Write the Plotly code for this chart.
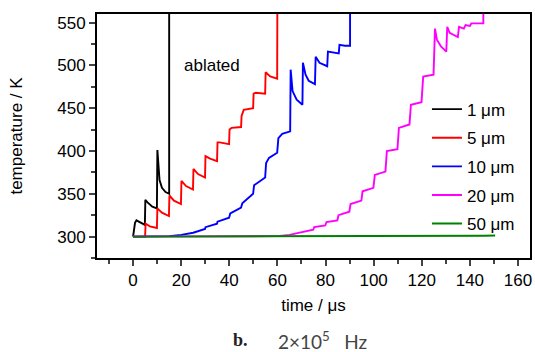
import plotly.graph_objects as go

# ---- data ----
t_1um = [0, 0.3, 0.8, 1.4, 2.5, 4.9, 5.1, 6.0, 8.0, 9.9, 10.1, 10.5, 11.0, 12.0, 13.5, 15.0, 15.0]
T_1um = [300, 308, 316, 319, 317, 313.6, 343, 340, 335, 333, 401, 378, 366, 357, 352, 350, 600]

t_5um = [0, 5, 5.2, 7, 9.9, 10.1, 12, 14.9, 15.1, 17, 19.9, 20.1, 22, 24.9, 25.1, 27, 29.9,
         30.1, 32, 34.9, 35.1, 36, 39.9, 40.1, 41, 44.9, 45.1, 46, 49.9, 50.1, 51, 54.9,
         55.1, 57, 59.9, 60]
T_5um = [300, 300, 315, 312, 310, 333, 328, 324, 348, 342, 338, 365, 359, 355, 379, 373, 369,
         394, 391, 388, 410, 410, 408, 425, 427, 428, 441, 448, 450, 467, 468, 467,
         492, 487, 484.5, 600]

t_10um = [0, 10, 15, 20, 25, 29.9, 30.1, 34.9, 35.1, 39.9, 40.4, 44.9, 45.4, 49.9, 50.3,
          54.9, 55.3, 56.5, 59.9, 60.4, 62, 65.3, 65.5, 66.3, 68, 70.4, 70.6, 71.7, 73,
          75.6, 75.9, 77.5, 80.7, 81, 83, 85.5, 85.8, 88, 90.2, 90.2]
T_10um = [300, 300, 300.5, 302, 304.5, 309, 311, 315, 317.5, 322, 327, 334, 339, 350, 360,
          369, 386, 392, 398, 415, 420, 423, 495, 470, 460, 454, 503, 489, 482,
          478, 510, 503, 499, 516, 515, 514, 524, 523, 523, 600]

t_20um = [0, 55, 60, 65, 70, 74.9, 75.3, 79.9, 80.4, 84.9, 85.4, 89.9, 90.4, 94.9, 95.4,
          99.9, 100.5, 104.9, 105.5, 109.9, 110.5, 114.9, 115.5, 119.9, 120.6, 124.9,
          125.5, 126.3, 128, 130.2, 130.6, 131.6, 135, 135.5, 137.5, 138.2, 140, 140.6,
          145.6, 145.6]
T_20um = [300, 300, 300.5, 302, 305, 308, 311, 313, 317, 319, 325, 329, 338, 342, 353,
          357, 372, 376, 400, 402, 427, 431, 454, 457, 487, 489,
          543, 530, 522, 516, 545, 538, 533, 545, 543, 547, 546, 549,
          549, 600]

t_50um = [0, 145, 146, 150.5]
T_50um = [300, 300.2, 301, 301.3]

names = ["1 \u03bcm", "5 \u03bcm", "10 \u03bcm", "20 \u03bcm", "50 \u03bcm"]
colors = ["#000000", "#FF0000", "#0000FF", "#FF00FF", "#008000"]
x_ticks = [0, 20, 40, 60, 80, 100, 120, 140, 160]
y_ticks = [300, 350, 400, 450, 500, 550]

series = [(t_1um, T_1um), (t_5um, T_5um), (t_10um, T_10um), (t_20um, T_20um), (t_50um, T_50um)]

FONT = "Liberation Sans, Arial, sans-serif"
fig = go.Figure()
for (tx, ty), nm, c in zip(series, names, colors):
    fig.add_trace(go.Scatter(x=tx, y=ty, mode="lines", name=nm, legendgroup=nm,
                             line=dict(color=c, width=1.9)))

fig.update_layout(
    width=535, height=352,
    margin=dict(l=97, r=3, t=14, b=94),
    paper_bgcolor="white", plot_bgcolor="white",
    font=dict(family=FONT, size=17, color="black"),
    showlegend=True,
    legend=dict(x=0.762, y=0.682, xanchor="left", yanchor="top",
                bgcolor="rgba(0,0,0,0)", font=dict(size=17), tracegroupgap=3.5),
)
fig.update_xaxes(range=[-15, 165], tickvals=x_ticks, ticks="outside", ticklen=6, tickwidth=1.5,
                 showline=True, linewidth=2, linecolor="black", mirror=True, showgrid=False,
                 zeroline=False,
                 minor=dict(dtick=10, tick0=0, ticks="outside", ticklen=4, tickwidth=1.5,
                            showgrid=False),
                 title=dict(text="time / \u03bcs", font=dict(size=17), standoff=10))
fig.update_yaxes(range=[275, 560], tickvals=y_ticks, ticks="outside", ticklen=6, tickwidth=1.5,
                 showline=True, linewidth=2, linecolor="black", mirror=True, showgrid=False,
                 zeroline=False,
                 minor=dict(dtick=25, tick0=0, ticks="outside", ticklen=4, tickwidth=1.5,
                            showgrid=False),
                 title=dict(text="temperature / K", font=dict(size=17), standoff=30))

fig.add_annotation(x=20.5, y=500, xref="x", yref="y", text="ablated", showarrow=False,
                   xanchor="left", yanchor="middle", font=dict(size=17, family=FONT))
fig.add_annotation(x=(241.5 - 97) / 435, y=1 - (340 - 14) / 244, xref="paper", yref="paper",
                   text="<b>b.</b>", showarrow=False, xanchor="center", yanchor="middle",
                   font=dict(size=18, family="Liberation Serif, Times New Roman, serif",
                             color="#222222"))
fig.add_annotation(x=(277 - 97) / 435, y=1 - (340 - 14) / 244, xref="paper", yref="paper",
                   text="2\u00d710<sup>5</sup>\u2002 Hz", showarrow=False, xanchor="left",
                   yanchor="middle",
                   font=dict(size=19, family="Lato, sans-serif", color="#444444"))

fig.write_html("out.html")
